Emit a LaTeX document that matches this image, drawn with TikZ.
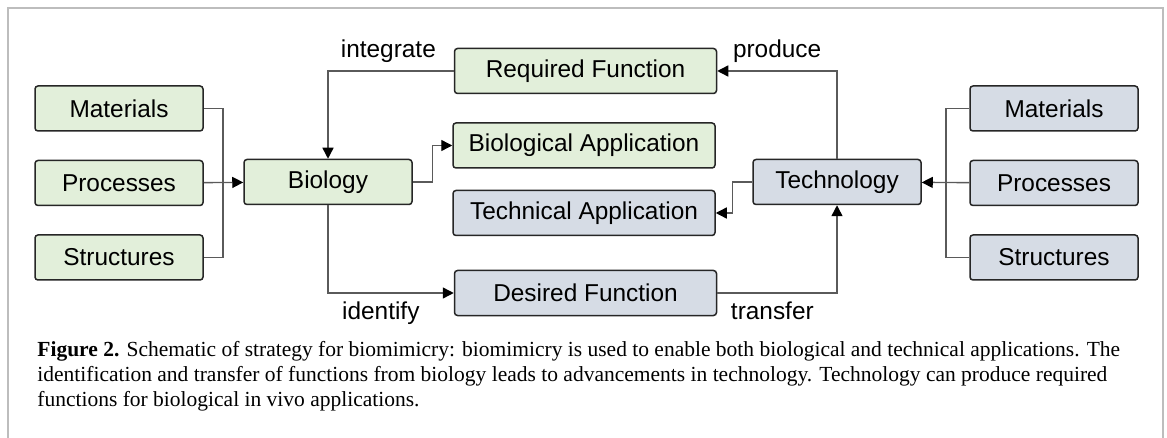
\documentclass[tikz,border=0pt]{standalone}
\usepackage{fontspec}
\setmainfont{Liberation Serif}
\setsansfont{Liberation Sans}
\usetikzlibrary{arrows.meta,positioning}
\definecolor{biofill}{HTML}{E2EFDA}
\definecolor{techfill}{HTML}{D6DCE5}
\definecolor{linkgray}{HTML}{5A5A5A}
\definecolor{framegray}{HTML}{BDBDBD}
\newcommand{\boxfont}{\sffamily\fontsize{12.2}{14}\selectfont}

\begin{document}
\begin{tikzpicture}[x=0.5pt, y=-0.5pt,
  box/.style={draw=black!85, line width=0.75pt, rounded corners=1.5pt, minimum height=22.5pt, inner sep=0pt, font=\boxfont},
  biobox/.style={box, fill=biofill},
  techbox/.style={box, fill=techfill},
  side/.style={minimum width=84pt},
  wide/.style={minimum width=131pt},
  lbl/.style={font=\boxfont, inner sep=4pt},
  link/.style={draw=linkgray, line width=0.7pt},
  flow/.style={link, -{Triangle[length=5.5pt, width=5.5pt, color=black]}},
  node distance=14pt]
\fill[white] (0,0) rectangle (1167,438);
\useasboundingbox (0,0) rectangle (1167,438);
\draw[framegray, line width=1pt] (7.5,438) -- (7.5,8.5) -- (1162.5,8.5) -- (1162.5,438);

% biology side
\node[biobox, side] (matL) at (119,108.5) {Materials};
\node[biobox, side, below=of matL] (procL) {Processes};
\node[biobox, side, below=of procL] (strL) {Structures};
\node[biobox, side] (bio) at (328,182) {Biology};

% middle column
\node[biobox, wide] (req) at (585.5,71) {Required Function};
\node[biobox, wide] (bioapp) at (584,145.5) {Biological Application};
\node[techbox, wide] (techapp) at (584,213) {Technical Application};
\node[techbox, wide] (des) at (585.5,293) {Desired Function};

% technology side
\node[techbox, side] (tech) at (837,182) {Technology};
\node[techbox, side] (matR) at (1054,108.5) {Materials};
\node[techbox, side, below=of matR] (procR) {Processes};
\node[techbox, side, below=of procR] (strR) {Structures};

\coordinate (jL) at (223,182);
\coordinate (jR) at (946,182);
\draw[link] (matL.east) -| (jL) |- (strL.east);
\draw[flow] (procL) -- (bio);
\draw[link] (matR.west) -| (jR) |- (strR.west);
\draw[flow] (procR) -- (tech);

\draw[flow] (req.west) -| node[lbl, above, pos=0.26] {integrate} (bio.north);
\draw[flow] (bio.east) -- ++(20,0) |- (bioapp.west);
\draw[flow] (bio.south) |- node[lbl, below, pos=0.71] {identify} (des.west);
\draw[flow] (des.east) -| node[lbl, below, pos=0.23] {transfer} (tech.south);
\draw[flow] (tech.north) |- node[lbl, above, pos=0.75] {produce} (req.east);
\draw[flow] (tech.west) -- ++(-20,0) |- (techapp.east);

% caption
\node[anchor=north west, inner sep=0pt, align=left, font=\fontsize{10.75}{12.5}\selectfont] (cap) at (37,341)
  {\textbf{Figure 2.} Schematic of strategy for biomimicry: biomimicry is used to enable both biological and technical applications. The\\
   identification and transfer of functions from biology leads to advancements in technology. Technology can produce required\\
   functions for biological in vivo applications.};
\end{tikzpicture}
\end{document}
